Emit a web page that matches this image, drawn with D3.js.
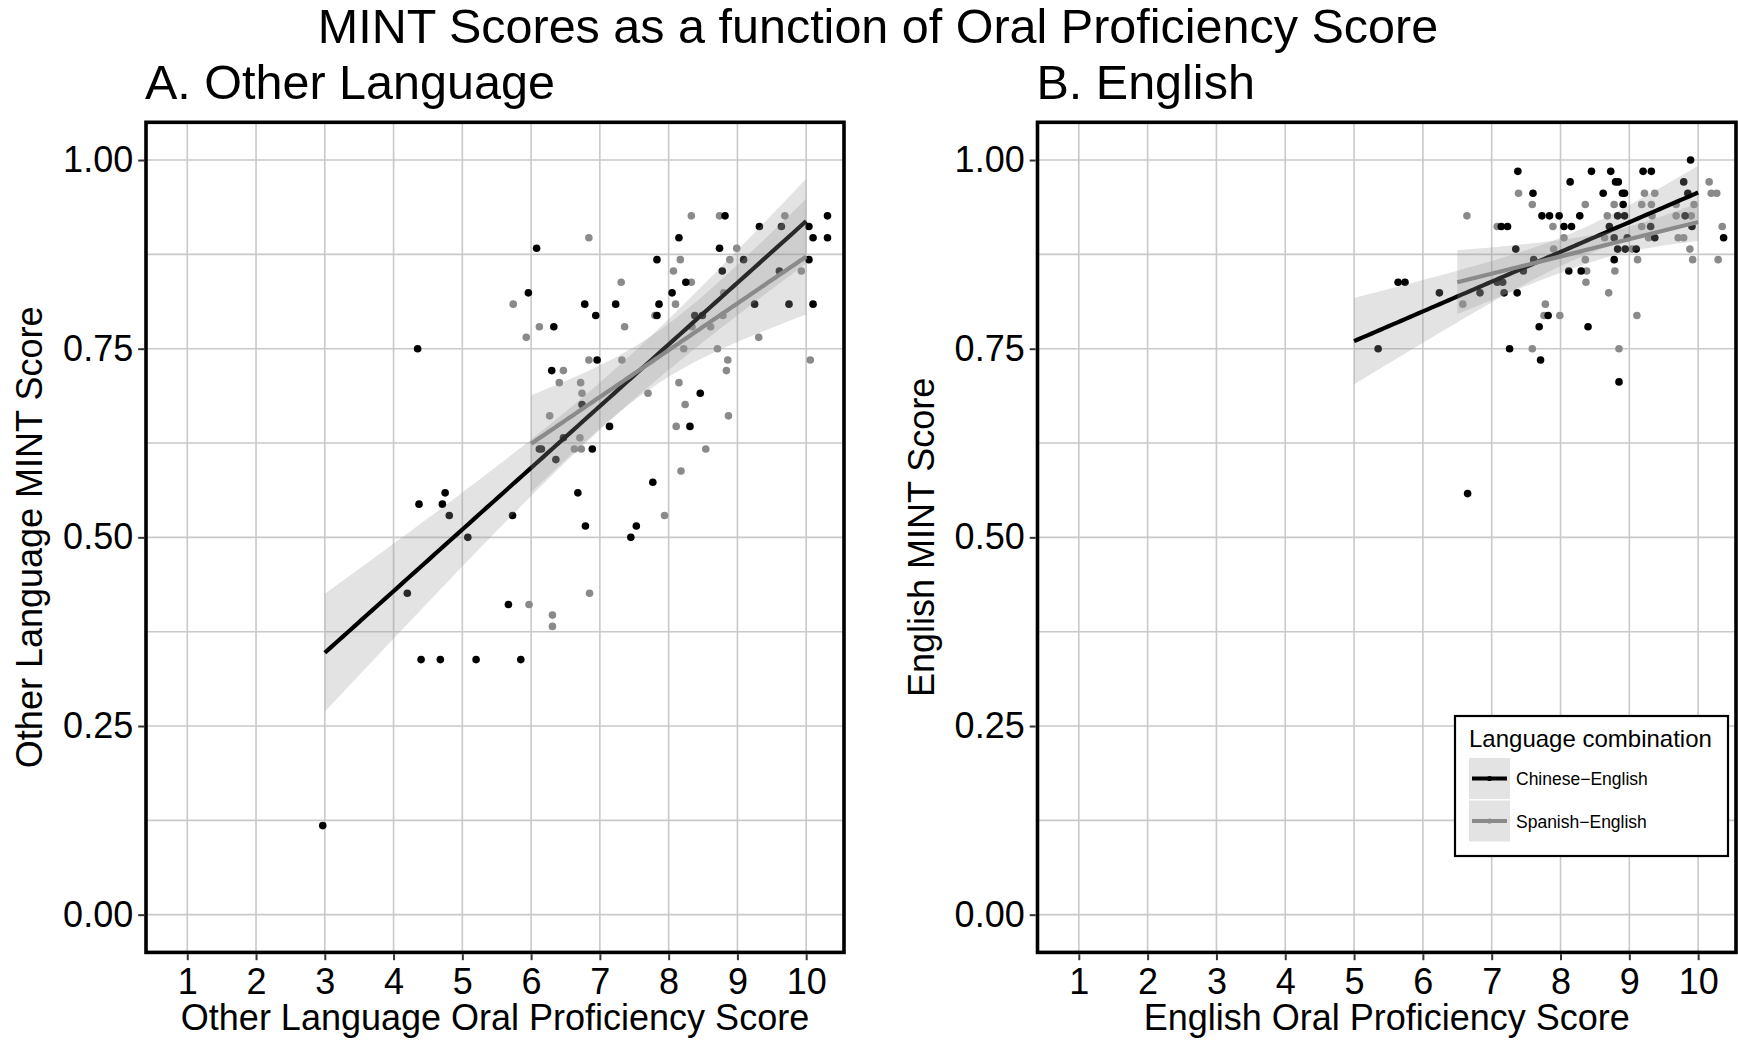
<!DOCTYPE html>
<html>
<head>
<meta charset="utf-8">
<script src="https://cdn.jsdelivr.net/npm/d3@7"></script>
<style>
  body { margin: 0; background: #fff; }
  svg { display: block; font-family: "Liberation Sans", Arial, Helvetica, sans-serif; }
</style>
</head>
<body>
<svg id="chart" width="1738" height="1040"></svg>
<script>
// ---- data (jittered scores) ----
var mainTitle = 'MINT Scores as a function of Oral Proficiency Score';
var panelTitles = ['A. Other Language', 'B. English'];
var xTitles = ['Other Language Oral Proficiency Score', 'English Oral Proficiency Score'];
var yTitles = ['Other Language MINT Score', 'English MINT Score'];
var groups = ['Chinese\u2212English', 'Spanish\u2212English'];
var xTicks = [1, 2, 3, 4, 5, 6, 7, 8, 9, 10];
var yTicks = [0, 0.25, 0.5, 0.75, 1];
var yMinor = [0.125, 0.375, 0.625, 0.875];

// panel A, Chinese-English
var otherChinese = [
  [2.97,.118],[4.2,.426],[4.35,.75],[4.37,.544],[4.4,.338],[4.68,.338],[4.71,.544],[4.75,.559],
  [4.81,.529],[5.08,.5],[5.2,.338],[5.67,.411],[5.73,.529],[5.85,.338],[5.96,.824],[6.08,.883],
  [6.12,.617],[6.15,.617],[6.33,.779],[6.30,.721],[6.36,.603],[6.47,.632],[6.68,.559],[6.74,.676],
  [6.78,.809],[6.79,.515],[6.89,.617],[6.94,.794],[6.96,.735],[7.14,.647],[7.23,.809],[7.45,.5],
  [7.53,.515],[7.77,.573],[7.83,.868],[7.83,.794],[7.86,.809],[8.05,.824],[8.15,.897],[8.25,.838],
  [8.31,.647],[8.38,.794],[8.46,.691],[8.49,.794],[8.74,.883],[8.78,.853],[8.82,.926],[9.09,.868],
  [9.25,.809],[9.32,.912],[9.61,.853],[9.64,.912],[9.75,.809],[10.04,.912],[10.04,.868],
  [10.10,.897],[10.10,.809],[10.31,.926],[10.31,.897]
];
// panel A, Spanish-English
var otherSpanish = [
  [5.74,.809],[5.93,.765],[5.97,.411],[6.12,.779],[6.27,.661],[6.31,.397],[6.31,.382],[6.41,.705],
  [6.47,.721],[6.63,.617],[6.71,.632],[6.72,.705],[6.73,.617],[6.74,.691],[6.84,.897],[6.84,.735],
  [6.85,.426],[7.31,.838],[7.32,.735],[7.36,.779],[7.70,.691],[7.80,.794],[7.94,.529],[8.07,.853],
  [8.10,.809],[8.11,.647],[8.15,.705],[8.17,.868],[8.18,.588],[8.22,.75],[8.24,.676],[8.33,.926],
  [8.33,.838],[8.34,.779],[8.54,.617],[8.61,.779],[8.71,.75],[8.74,.926],[8.79,.794],[8.80,.824],
  [8.84,.721],[8.86,.735],[8.87,.661],[8.89,.868],[8.99,.883],[9.31,.765],[9.69,.926],[9.93,.853],
  [10.06,.735]
];
// panel B, Chinese-English
var englishChinese = [
  [5.35,.75],[5.64,.838],[5.74,.838],[6.24,.824],[6.65,.558],[6.83,.824],[7.08,.838],[7.14,.912],
  [7.16,.838],[7.18,.824],[7.23,.912],[7.26,.75],[7.35,.882],[7.37,.824],[7.38,.985],[7.46,.853],
  [7.60,.956],[7.61,.868],[7.69,.779],[7.71,.735],[7.73,.926],[7.82,.794],[7.84,.926],[7.98,.926],
  [8.05,.912],[8.12,.853],[8.14,.971],[8.16,.912],[8.28,.926],[8.30,.853],[8.40,.779],[8.45,.985],
  [8.62,.956],[8.71,.912],[8.73,.985],[8.78,.868],[8.78,.897],[8.80,.971],[8.83,.882],[8.83,.926],
  [8.84,.971],[8.85,.706],[8.90,.956],[8.91,.941],[8.93,.956],[8.93,.926],[8.94,.882],[8.97,.897],
  [9.10,.882],[9.20,.985],[9.31,.912],[9.32,.985],[9.37,.897],[9.79,.971],[9.81,.926],[9.85,.956],
  [9.89,1.0],[9.91,.912],[10.37,.897]
];
// panel B, Spanish-English
var englishSpanish = [
  [6.58,.809],[6.64,.926],[7.08,.912],[7.39,.956],[7.59,.941],[7.59,.75],[7.76,.794],[7.78,.809],
  [7.89,.912],[7.90,.882],[7.99,.794],[8.05,.897],[8.36,.941],[8.36,.868],[8.37,.838],[8.38,.853],
  [8.64,.897],[8.68,.926],[8.70,.824],[8.78,.941],[8.79,.853],[8.85,.75],[9.04,.882],[9.11,.794],
  [9.12,.868],[9.18,.912],[9.18,.941],[9.22,.956],[9.28,.897],[9.32,.941],[9.33,.926],[9.37,.956],
  [9.68,.941],[9.68,.926],[9.71,.897],[9.79,.897],[9.88,.882],[9.90,.926],[9.92,.868],[9.94,.941],
  [10.16,.971],[10.19,.956],[10.27,.956],[10.29,.868],[10.35,.912]
];
// lm fit lines as drawn in the figure: [x start, y start, x end, y end]
var otherFits = [[3, 0.347, 10, 0.919], [6, 0.624, 10, 0.872]];
var englishFits = [[5, 0.760, 10, 0.957], [6.5, 0.838, 10, 0.918]];

var colors = ['#000000', '#8a8a8a'];
var ribbonFill = 'rgba(153,153,153,0.27)';

// ---- layout ----
var svg = d3.select('#chart');
svg.append('rect').attr('width', 1738).attr('height', 1040).attr('fill', '#fff');

var panels = [
  {left: 146, right: 844, sets: [otherChinese, otherSpanish], fit: otherFits},
  {left: 1037.5, right: 1736, sets: [englishChinese, englishSpanish], fit: englishFits}
];
var plotTop = 122.3, plotBottom = 952.4;

svg.append('text')
    .attr('x', 878).attr('y', 43)
    .attr('text-anchor', 'middle')
    .attr('font-size', 48.5)
    .text(mainTitle);

// t quantile (0.975) approximation
function tq(df) {
  var z = 1.959964;
  return z + (z*z*z + z) / (4*df) + (5*Math.pow(z,5) + 16*z*z*z + 3*z) / (96*df*df);
}

// confidence band: centre on the drawn fit, width from the points' residual spread
function lmBand(pts, fit) {
  var n = pts.length,
      mx = d3.mean(pts, function(d) { return d[0]; }),
      my = d3.mean(pts, function(d) { return d[1]; }),
      sxx = d3.sum(pts, function(d) { return (d[0]-mx)*(d[0]-mx); }),
      sxy = d3.sum(pts, function(d) { return (d[0]-mx)*(d[1]-my); }),
      b = sxy / sxx, a = my - b*mx,
      s = Math.sqrt(d3.sum(pts, function(d) { var r = d[1] - a - b*d[0]; return r*r; }) / (n-2)),
      t = tq(n-2),
      line = d3.scaleLinear().domain([fit[0], fit[2]]).range([fit[1], fit[3]]);
  return d3.range(0, 81).map(function(i) {
    var x = fit[0] + (fit[2]-fit[0]) * i / 80,
        se = s * Math.sqrt(1/n + (x-mx)*(x-mx)/sxx),
        y = line(x);
    return {x: x, y: y, lo: y - t*se, hi: y + t*se};
  });
}

panels.forEach(function(p, pi) {
  var x = d3.scaleLinear().domain([0.4, 10.55]).range([p.left, p.right]);
  var y = d3.scaleLinear().domain([-0.05, 1.05]).range([plotBottom, plotTop]);
  var g = svg.append('g');

  g.append('clipPath').attr('id', 'clip' + pi)
    .append('rect').attr('x', p.left).attr('y', plotTop)
    .attr('width', p.right - p.left).attr('height', plotBottom - plotTop);

  // grid
  var grid = g.append('g').attr('stroke', '#c9c9c9').attr('stroke-width', 1.6);
  grid.selectAll('line.h').data(yTicks.concat(yMinor)).enter().append('line')
      .attr('x1', p.left).attr('x2', p.right)
      .attr('y1', function(d) { return y(d); }).attr('y2', function(d) { return y(d); });
  grid.selectAll('line.v').data(xTicks).enter().append('line')
      .attr('y1', plotTop).attr('y2', plotBottom)
      .attr('x1', function(d) { return x(d); }).attr('x2', function(d) { return x(d); });

  var plot = g.append('g').attr('clip-path', 'url(#clip' + pi + ')');

  // points (Spanish first, Chinese on top)
  [1, 0].forEach(function(gi) {
    plot.append('g').selectAll('circle')
      .data(p.sets[gi]).enter().append('circle')
        .attr('cx', function(d) { return x(d[0]); })
        .attr('cy', function(d) { return y(d[1]); })
        .attr('r', 3.8)
        .attr('fill', colors[gi]);
  });

  // smooth: ribbon then line for each group
  [0, 1].forEach(function(gi) {
    var band = lmBand(p.sets[gi], p.fit[gi]);
    plot.append('path').datum(band)
        .attr('fill', ribbonFill)
        .attr('d', d3.area()
          .x(function(d) { return x(d.x); })
          .y0(function(d) { return y(d.lo); })
          .y1(function(d) { return y(d.hi); }));
    plot.append('path').datum(band)
        .attr('fill', 'none')
        .attr('stroke', colors[gi])
        .attr('stroke-width', 4.2)
        .attr('d', d3.line()
          .x(function(d) { return x(d.x); })
          .y(function(d) { return y(d.y); }));
  });

  // panel border
  g.append('rect')
      .attr('x', p.left).attr('y', plotTop)
      .attr('width', p.right - p.left).attr('height', plotBottom - plotTop)
      .attr('fill', 'none').attr('stroke', '#000').attr('stroke-width', 3.6);

  // axes
  var xAxis = g.append('g')
      .attr('transform', 'translate(0,' + (plotBottom + 1.8) + ')')
      .call(d3.axisBottom(x).tickValues(xTicks).tickSize(6).tickPadding(8).tickFormat(d3.format('d')));
  var yAxis = g.append('g')
      .attr('transform', 'translate(' + (p.left - 1.8) + ',0)')
      .call(d3.axisLeft(y).tickValues(yTicks).tickSize(6).tickPadding(5).tickFormat(d3.format('.2f')));
  [xAxis, yAxis].forEach(function(ax) {
    ax.select('.domain').remove();
    ax.selectAll('line').attr('stroke', '#333').attr('stroke-width', 2);
    ax.selectAll('text').attr('font-size', 36).attr('fill', '#000')
      .attr('font-family', '"Liberation Sans", Arial, Helvetica, sans-serif');
  });

  // titles
  g.append('text')
      .attr('x', p.left - 1).attr('y', 99)
      .attr('font-size', 48.5)
      .text(panelTitles[pi]);
  g.append('text')
      .attr('x', (p.left + p.right) / 2).attr('y', 1030)
      .attr('text-anchor', 'middle')
      .attr('font-size', 36)
      .text(xTitles[pi]);
  g.append('text')
      .attr('transform', 'translate(' + (p.left - 104) + ',' + ((plotTop + plotBottom) / 2) + ') rotate(-90)')
      .attr('text-anchor', 'middle')
      .attr('font-size', 36)
      .text(yTitles[pi]);
});

// legend inside panel B
var legend = svg.append('g').attr('transform', 'translate(1455,716)');
legend.append('rect')
    .attr('width', 273).attr('height', 140)
    .attr('fill', '#fff').attr('stroke', '#000').attr('stroke-width', 2.2);
legend.append('text')
    .attr('x', 14).attr('y', 31)
    .attr('font-size', 24)
    .text('Language combination');
var item = legend.selectAll('g.item')
    .data(groups).enter().append('g')
      .attr('transform', function(d, i) { return 'translate(14,' + (42 + i * 42.5) + ')'; });
item.append('rect')
    .attr('width', 41).attr('height', 41)
    .attr('fill', ribbonFill);
item.append('line')
    .attr('x1', 3).attr('x2', 38).attr('y1', 20.5).attr('y2', 20.5)
    .attr('stroke', function(d, i) { return colors[i]; })
    .attr('stroke-width', 4.2);
item.append('circle')
    .attr('cx', 20.5).attr('cy', 20.5).attr('r', 2.6)
    .attr('fill', function(d, i) { return colors[i]; });
item.append('text')
    .attr('x', 47).attr('y', 27)
    .attr('font-size', 17.5)
    .text(function(d) { return d; });
</script>
</body>
</html>
